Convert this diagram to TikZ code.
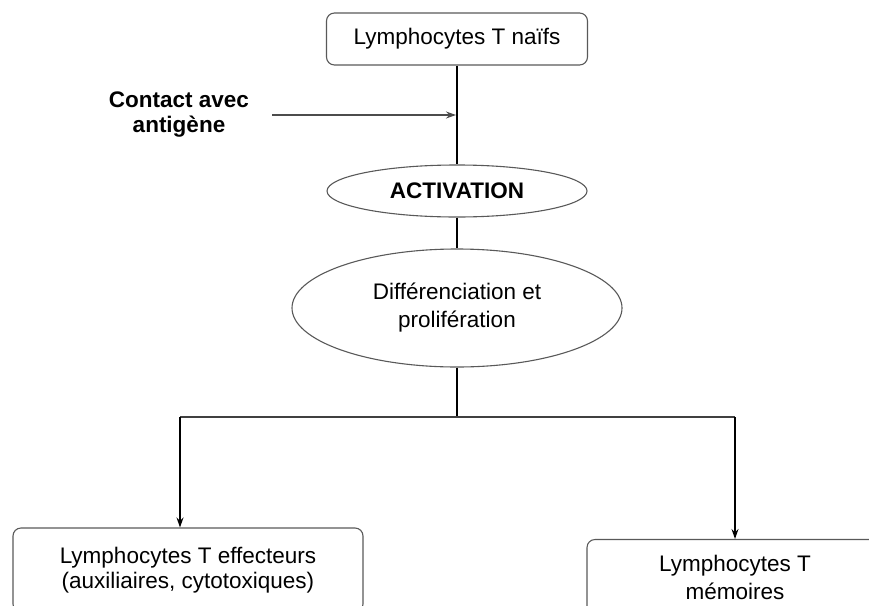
\documentclass[tikz,border=0pt]{standalone}
\usepackage{fontspec}
\setmainfont{Liberation Sans}
\usepackage{tikz}
\usetikzlibrary{shapes.geometric,arrows.meta}

\begin{document}
\begin{tikzpicture}[x=1pt,y=-1pt,
  txt/.style={font=\fontsize{22.5}{28}\selectfont,align=center},
  box/.style={txt,draw=black!65,line width=1.1pt,rounded corners=8pt,inner sep=0pt},
  oval/.style={txt,ellipse,draw=black!65,line width=1.1pt,inner sep=0pt},
  link/.style={line width=1.4pt},
  tip/.style={-{Stealth[length=10pt,width=7pt]}}]
\useasboundingbox (0,0) rectangle (869,605);
\clip (0,0) rectangle (869,605);
% boxes and ovals
\node [box,minimum width=261pt,minimum height=52pt] (naifs) at (457,39) {Lymphocytes T naïfs};
\node [oval,minimum width=260pt,minimum height=52pt] (activ) at (457,191) {\textbf{ACTIVATION}};
\node [oval,minimum width=330pt,minimum height=118pt] (diff) at (457,308) {Différenciation et\\prolifération};
\node [txt,font=\fontsize{22.5}{25}\selectfont\bfseries] (contact) at (179,115) {Contact avec\\antigène};
\node [box,font=\fontsize{22.5}{25}\selectfont,minimum width=350pt,minimum height=84pt] (eff) at (188,570) {Lymphocytes T effecteurs\\(auxiliaires, cytotoxiques)};
\node [box,minimum width=296pt,minimum height=75pt] (mem) at (735,577) {Lymphocytes T\\mémoires};
% connectors
\coordinate (src) at (272,115);
\coordinate (entry) at (456,115);
\coordinate (split) at (457,417);
\coordinate (splitL) at (180,417);
\coordinate (splitR) at (735,417);
\draw [link] (naifs) -- (activ);
\draw [line width=1.1pt,black!70] [tip] (src) -- (entry);
\draw [link] (activ) -- (diff);
\draw [link] (diff) -- (split);
\draw [line width=1.2pt,black!75] (splitL) -- (splitR);
\draw [link] [tip] (splitL) -- (splitL |- eff.north);
\draw [link] [tip] (splitR) -- (splitR |- mem.north);
\end{tikzpicture}
\end{document}
